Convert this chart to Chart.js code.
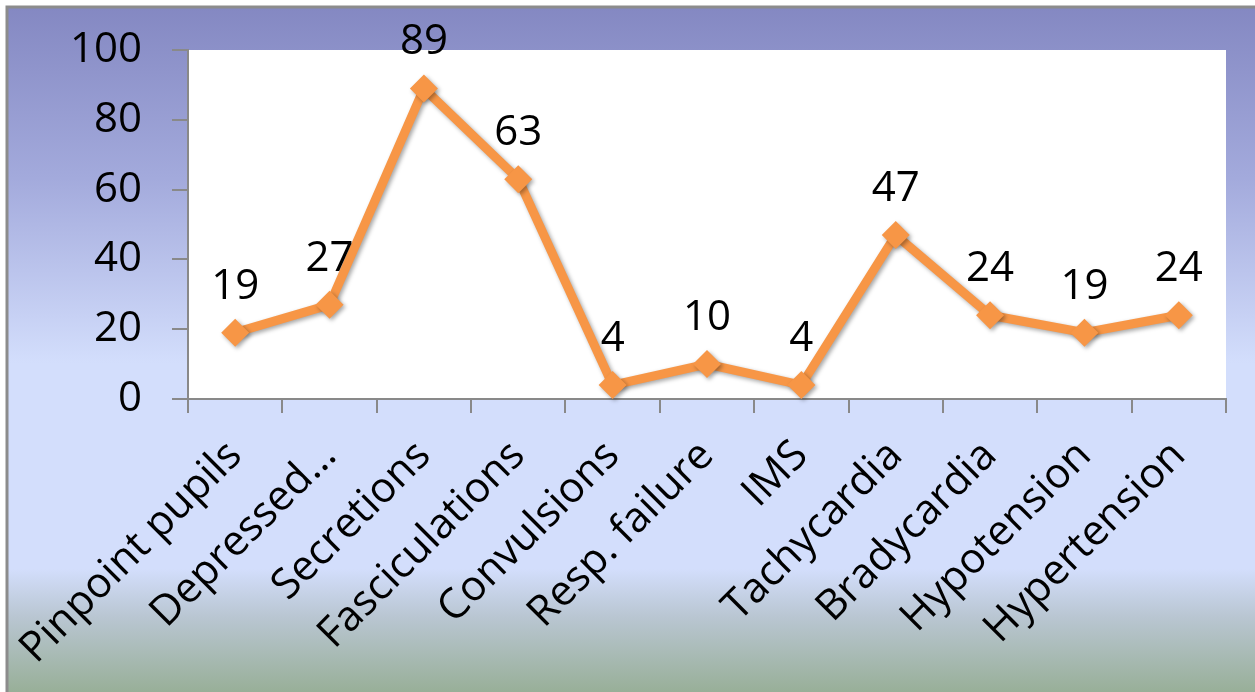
<!DOCTYPE html>
<html>
<head>
<meta charset="utf-8">
<script src="https://cdn.jsdelivr.net/npm/chart.js@4/dist/chart.umd.min.js"></script>
<style>
  body { margin: 0; background: #fff; }
  canvas { display: block; }
</style>
</head>
<body>
<canvas id="lineChart" width="1255" height="692"></canvas>
<script>
const categories = [
  'Pinpoint pupils', 'Depressed…', 'Secretions', 'Fasciculations', 'Convulsions',
  'Resp. failure', 'IMS', 'Tachycardia', 'Bradycardia', 'Hypotension', 'Hypertension'
];
const values = [19, 27, 89, 63, 4, 10, 4, 47, 24, 19, 24];
const yTicks = [0, 20, 40, 60, 80, 100];

const FONT = "'Open Sans', sans-serif";
const AXIS_GRAY = '#898989';

// gradient frame + white plot area
const backgroundPlugin = {
  id: 'background',
  beforeDraw(chart) {
    const { ctx, width, height, chartArea } = chart;
    ctx.save();
    ctx.fillStyle = '#fff';
    ctx.fillRect(0, 0, width, height);
    const g = ctx.createLinearGradient(0, 7, 0, height);
    g.addColorStop(0, '#8488c2');
    g.addColorStop(0.25, '#a3aadc');
    g.addColorStop(0.52, '#d3defc');
    g.addColorStop(0.82, '#d3defc');
    g.addColorStop(0.89, '#b9c6d2');
    g.addColorStop(1, '#98af98');
    ctx.fillStyle = g;
    ctx.fillRect(7, 7, width - 7, height - 7);
    ctx.strokeStyle = '#8c8c8c';
    ctx.lineWidth = 3;
    ctx.beginPath();
    ctx.moveTo(7, height);
    ctx.lineTo(7, 7);
    ctx.lineTo(width, 7);
    ctx.stroke();
    ctx.fillStyle = '#fff';
    ctx.fillRect(chartArea.left, chartArea.top, chartArea.right - chartArea.left, chartArea.bottom - chartArea.top);
    ctx.restore();
  }
};

// soft drop shadow under the line and markers
const shadowPlugin = {
  id: 'shadow',
  beforeDatasetDraw(chart) {
    const ctx = chart.ctx;
    ctx.save();
    ctx.shadowColor = 'rgba(0,0,0,0.35)';
    ctx.shadowBlur = 4;
    ctx.shadowOffsetX = 2;
    ctx.shadowOffsetY = 2;
  },
  afterDatasetDraw(chart) {
    chart.ctx.restore();
  }
};

// value labels above each point
const valueLabels = {
  id: 'valueLabels',
  afterDatasetsDraw(chart) {
    const ctx = chart.ctx;
    const meta = chart.getDatasetMeta(0);
    ctx.save();
    ctx.font = '42px ' + FONT;
    ctx.fillStyle = '#000';
    ctx.textAlign = 'center';
    ctx.textBaseline = 'alphabetic';
    meta.data.forEach((pt, i) => {
      ctx.fillText(String(values[i]), pt.x, pt.y - 34);
    });
    ctx.restore();
  }
};

const ctx = document.getElementById('lineChart').getContext('2d');
const lineChart = new Chart(ctx, {
  type: 'line',
  data: {
    labels: categories,
    datasets: [{
      data: values,
      borderColor: '#f79646',
      backgroundColor: '#f79646',
      borderWidth: 9,
      pointStyle: 'rectRot',
      pointRadius: 14,
      pointBorderWidth: 0,
      pointBackgroundColor: '#f79646',
      tension: 0,
      clip: false
    }]
  },
  options: {
    responsive: false,
    animation: false,
    devicePixelRatio: 1,
    layout: { padding: { top: 50, right: 29, left: 0, bottom: 0 } },
    plugins: {
      legend: { display: false },
      tooltip: { enabled: false }
    },
    scales: {
      x: {
        offset: true,
        grid: {
          offset: true,
          drawOnChartArea: false,
          color: AXIS_GRAY,
          lineWidth: 2,
          tickLength: 14
        },
        border: { color: AXIS_GRAY, width: 2 },
        ticks: {
          color: '#000',
          font: { family: FONT, size: 42 },
          minRotation: 45,
          maxRotation: 45,
          autoSkip: false,
          padding: 18
        },
        afterFit(scale) {
          scale.height = 692 - 399;
          scale.paddingLeft = 0;
          scale.paddingRight = 0;
        }
      },
      y: {
        min: 0,
        max: 100,
        afterBuildTicks(scale) { scale.ticks = yTicks.map(v => ({ value: v })); },
        grid: {
          drawOnChartArea: false,
          color: AXIS_GRAY,
          lineWidth: 2,
          tickLength: 16
        },
        border: { color: AXIS_GRAY, width: 2 },
        ticks: {
          color: '#000',
          font: { family: FONT, size: 42 },
          padding: 30
        },
        afterFit(scale) {
          scale.width = 188;
          scale.paddingTop = 0;
          scale.paddingBottom = 0;
        }
      }
    }
  },
  plugins: [backgroundPlugin, shadowPlugin, valueLabels]
});
</script>
</body>
</html>
